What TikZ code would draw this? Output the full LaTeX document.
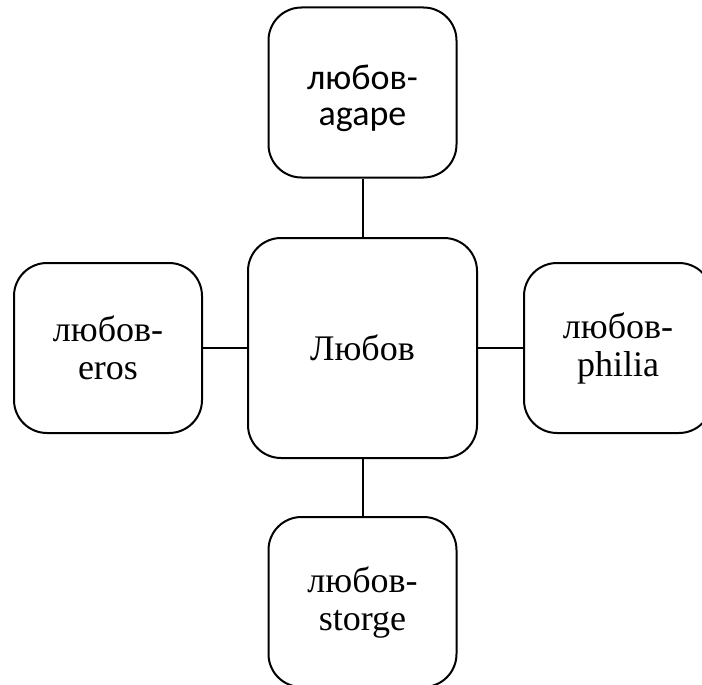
\documentclass[tikz,border=0pt]{standalone}
\usepackage{fontspec}
\setmainfont{Liberation Serif}
\newfontfamily\calib{Carlito}
\begin{document}
\begin{tikzpicture}[x=1pt,y=-1pt,
  box/.style={draw=black,line width=2pt,rounded corners=33pt,align=center,inner sep=0pt},
  smallbox/.style={box,minimum width=188pt,minimum height=170pt},
  serif/.style={font=\fontsize{36}{38}\selectfont},
  sans/.style={font=\calib\fontsize{36}{36.5}\selectfont,align=center,inner sep=0pt},
  link/.style={line width=2pt}]
\useasboundingbox (0,0) rectangle (702,685);
\clip (0,0) rectangle (702,685);
\node[box,serif,minimum width=229pt,minimum height=220pt] (c) at (362.5,348) {Любов};
\node[smallbox] (t) at (362.5,92.5) {};
\node[sans] (tt) at ([yshift=-6pt]t.center) {любов-\\agape};
\node[smallbox,serif] (l) at (108,348) {любов-\\eros};
\node[smallbox,serif] (r) at (618,348) {любов-\\philia};
\node[smallbox,serif] (b) at (362.5,602) {любов-\\storge};
\draw[link] (c) -- (t);
\draw[link] (c) -- (l);
\draw[link] (c) -- (r);
\draw[link] (c) -- (b);
\end{tikzpicture}
\end{document}
